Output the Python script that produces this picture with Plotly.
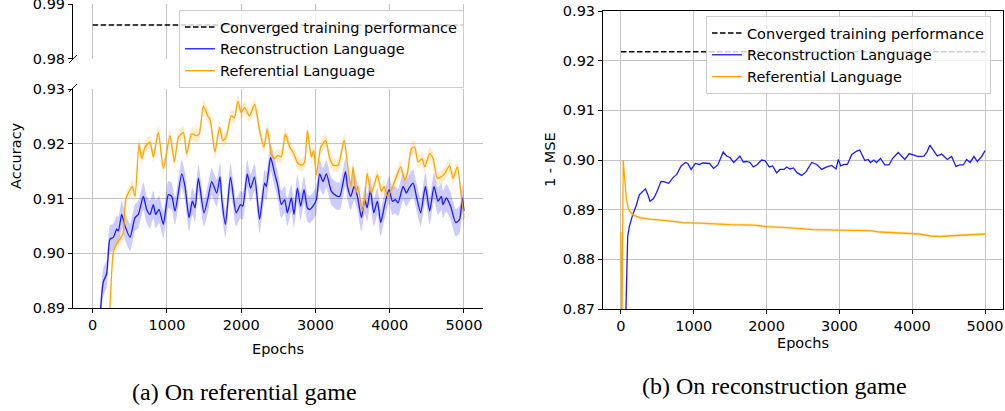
import numpy as np
import plotly.graph_objects as go

# ---------------- data ----------------
X_TICKS = [0, 1000, 2000, 3000, 4000, 5000]
X_TICK_LABELS = ["0", "1000", "2000", "3000", "4000", "5000"]
Y_TOP_TICKS = [0.98, 0.99]
Y_BOT_TICKS = [0.89, 0.90, 0.91, 0.92, 0.93]
Y_RIGHT_TICKS = [0.87, 0.88, 0.89, 0.90, 0.91, 0.92, 0.93]

LABEL_CONV = "Converged training performance"
LABEL_REC = "Reconstruction Language"
LABEL_REF = "Referential Language"

# (a) referential game
conv_a_epochs = [0, 5000]
conv_a_value = [0.9862, 0.9862]

rec_a_epochs = [60, 108, 144, 189, 233, 278, 323, 346, 391, 435, 503, 570, 615, 682, 727, 772,
                817, 848, 893, 952, 1019, 1064, 1109, 1199, 1243, 1297, 1342, 1378, 1423, 1499,
                1558, 1603, 1670, 1715, 1739, 1788, 1856, 1932, 1991, 2022, 2081, 2126, 2180,
                2248, 2315, 2338, 2396, 2450, 2495, 2540, 2585, 2621, 2675, 2711, 2756, 2801,
                2846, 2891, 2922, 2967, 3012, 3057, 3102, 3147, 3215, 3282, 3327, 3404, 3431,
                3476, 3520, 3565, 3619, 3664, 3695, 3740, 3785, 3834, 3879, 3933, 3991, 4036,
                4076, 4112, 4180, 4224, 4260, 4314, 4359, 4417, 4480, 4538, 4596, 4650, 4695,
                4717, 4762, 4820, 4888, 4941, 4977, 5000]
rec_a_acc = [0.875, 0.890, 0.8948, 0.8963, 0.9026, 0.9029, 0.9044, 0.9041, 0.9071, 0.9050,
             0.9029, 0.9065, 0.9071, 0.9104, 0.9080, 0.9071, 0.9089, 0.9071, 0.9080, 0.9053,
             0.9107, 0.9104, 0.9077, 0.9145, 0.9122, 0.9065, 0.9095, 0.9083, 0.9137, 0.9074,
             0.9104, 0.9131, 0.9110, 0.9140, 0.9098, 0.9053, 0.9139, 0.9074, 0.9089, 0.9086,
             0.9145, 0.9119, 0.9139, 0.9062, 0.9128, 0.9122, 0.9175, 0.9146, 0.9122, 0.9089,
             0.9098, 0.9074, 0.9101, 0.9071, 0.9119, 0.9086, 0.9116, 0.9083, 0.9080, 0.9086,
             0.9098, 0.9145, 0.9131, 0.9145, 0.9113, 0.9105, 0.9104, 0.9149, 0.9122, 0.9104,
             0.9122, 0.9104, 0.9065, 0.9098, 0.9083, 0.9115, 0.9074, 0.9095, 0.9056, 0.9089,
             0.9116, 0.9095, 0.9098, 0.9092, 0.9122, 0.9110, 0.9119, 0.9128, 0.9104, 0.9074,
             0.9122, 0.9077, 0.9122, 0.9095, 0.9104, 0.9089, 0.9101, 0.9086, 0.9056, 0.9062,
             0.9101, 0.9077]
rec_a_spread = 0.0025

ref_a_epochs = [180, 233, 278, 323, 368, 413, 444, 503, 534, 570, 624, 660, 705, 772, 817, 884,
                952, 1041, 1100, 1154, 1221, 1266, 1333, 1401, 1436, 1490, 1549, 1580, 1647,
                1707, 1753, 1797, 1865, 1910, 1955, 2000, 2045, 2112, 2180, 2248, 2306, 2351,
                2405, 2450, 2495, 2540, 2594, 2652, 2697, 2765, 2819, 2855, 2891, 2945, 2976,
                3012, 3071, 3138, 3192, 3237, 3305, 3386, 3440, 3476, 3507, 3543, 3574, 3628,
                3664, 3695, 3749, 3785, 3834, 3888, 3924, 3969, 4022, 4090, 4148, 4202, 4238,
                4291, 4336, 4381, 4435, 4471, 4538, 4583, 4641, 4695, 4740, 4807, 4852, 4910,
                4964, 5000]
ref_a_acc = [0.875, 0.890, 0.9002, 0.9017, 0.9026, 0.9038, 0.9098, 0.9116, 0.9122, 0.9104,
             0.9200, 0.9173, 0.9194, 0.9203, 0.9176, 0.9221, 0.9155, 0.9215, 0.9167, 0.9212,
             0.9221, 0.9182, 0.9218, 0.9215, 0.9218, 0.9269, 0.9251, 0.9245, 0.9185, 0.9230,
             0.9206, 0.9212, 0.9251, 0.9248, 0.9278, 0.9257, 0.9266, 0.9251, 0.9272, 0.9224,
             0.9194, 0.9227, 0.9182, 0.9173, 0.9179, 0.9176, 0.9218, 0.9194, 0.9185, 0.9164,
             0.9161, 0.9167, 0.9224, 0.9176, 0.9188, 0.9143, 0.9194, 0.9206, 0.9173, 0.9161,
             0.9161, 0.9206, 0.9152, 0.9122, 0.9158, 0.9110, 0.9122, 0.9077, 0.9098, 0.9146,
             0.9110, 0.9122, 0.9143, 0.9113, 0.9122, 0.9104, 0.9116, 0.9140, 0.9158, 0.9134,
             0.9146, 0.9191, 0.9194, 0.9167, 0.9173, 0.9158, 0.9182, 0.9173, 0.9137, 0.9140,
             0.9146, 0.9160, 0.9137, 0.9158, 0.9104, 0.9065]
ref_a_spread = 0.0012

# (b) reconstruction game
conv_b_epochs = [0, 5000]
conv_b_value = [0.9218, 0.9218]

rec_b_epochs = [0, 60, 92, 115, 161, 206, 252, 298, 335, 367, 399, 445, 491, 550, 596, 656,
                711, 766, 826, 885, 917, 963, 1023, 1078, 1124, 1216, 1271, 1330, 1404, 1450,
                1496, 1550, 1587, 1633, 1679, 1725, 1771, 1817, 1872, 1931, 1977, 2037, 2083,
                2138, 2183, 2239, 2275, 2321, 2367, 2422, 2482, 2541, 2619, 2688, 2757, 2826,
                2894, 2954, 2986, 3018, 3064, 3110, 3170, 3238, 3280, 3349, 3395, 3427, 3473,
                3509, 3564, 3624, 3683, 3729, 3807, 3853, 3899, 3959, 4014, 4083, 4161, 4206,
                4243, 4289, 4344, 4404, 4482, 4541, 4601, 4656, 4702, 4748, 4794, 4849, 4894,
                4954, 5000]
rec_b_score = [0.800, 0.865, 0.8846, 0.8866, 0.8890, 0.8907, 0.8930, 0.8937, 0.8942, 0.8931,
               0.8917, 0.8922, 0.8935, 0.8957, 0.8956, 0.8953, 0.8964, 0.8971, 0.8988, 0.8995,
               0.8993, 0.8981, 0.8993, 0.8991, 0.8994, 0.8993, 0.8983, 0.8990, 0.9016, 0.9008,
               0.9005, 0.8995, 0.9001, 0.9008, 0.8996, 0.8997, 0.8995, 0.8986, 0.8991, 0.9000,
               0.8999, 0.8986, 0.8988, 0.8974, 0.8981, 0.8981, 0.8986, 0.8982, 0.8984, 0.8974,
               0.8969, 0.8976, 0.8995, 0.8991, 0.8981, 0.8986, 0.8989, 0.8982, 0.9001, 0.8988,
               0.8991, 0.8991, 0.9011, 0.9018, 0.9020, 0.8999, 0.9001, 0.8995, 0.9000, 0.8995,
               0.9003, 0.8990, 0.8990, 0.9003, 0.9015, 0.9008, 0.9001, 0.9013, 0.9010, 0.9007,
               0.9008, 0.9017, 0.9030, 0.9019, 0.9008, 0.9012, 0.9001, 0.9007, 0.8987, 0.8990,
               0.8990, 0.9001, 0.8995, 0.9007, 0.8997, 0.9007, 0.9019]

ref_b_epochs = [0, 12, 30, 50, 75, 105, 161, 252, 390, 619, 849, 1078, 1358, 1491, 1817, 2000,
                2275, 2640, 3000, 3142, 3420, 3555, 3830, 4000, 4100, 4250, 4380, 4600, 4800, 5000]
ref_b_score = [0.8855, 0.862, 0.900, 0.8954, 0.8920, 0.8900, 0.8890, 0.8884, 0.8881, 0.8878,
               0.8874, 0.8873, 0.8870, 0.8870, 0.8869, 0.8866, 0.8864, 0.8860, 0.8859, 0.8859,
               0.8858, 0.8855, 0.8853, 0.8852, 0.8851, 0.8847, 0.8846, 0.8848, 0.8849, 0.8851]
ref_b_spread = 0.0003

# ---------------- style ----------------
W, H = 1005, 411
FONT = "DejaVu Sans"
FS = 14.5
BLUE = "#1a1aff"
ORANGE = "#ffa500"
BLUE_FILL = "rgba(0,0,255,0.2)"
ORANGE_FILL = "rgba(255,165,0,0.2)"
GRID = "#c4c4c4"


def px_x(p):
    return p / W


def px_y(p):
    return 1 - p / H


def band(x, y, spread):
    x = np.asarray(x, float)
    y = np.asarray(y, float)
    return (np.concatenate([x, x[::-1]]),
            np.concatenate([y + spread, (y - spread)[::-1]]))


fig = go.Figure()

# ---- (a) top (broken) part
fig.add_trace(go.Scatter(x=conv_a_epochs, y=conv_a_value, mode="lines",
                         line=dict(color="black", width=1.5, dash="5.5px,2.5px"),
                         name=LABEL_CONV, legend="legend", legendgroup="a1",
                         xaxis="x", yaxis="y", hoverinfo="skip"))

# ---- (a) bottom part
bx, by = band(rec_a_epochs, rec_a_acc, rec_a_spread)
fig.add_trace(go.Scatter(x=bx, y=by, fill="toself", fillcolor=BLUE_FILL,
                         line=dict(width=0, shape="spline", smoothing=0.6), mode="lines",
                         showlegend=False, xaxis="x2", yaxis="y2", hoverinfo="skip"))
bx, by = band(ref_a_epochs, ref_a_acc, ref_a_spread)
fig.add_trace(go.Scatter(x=bx, y=by, fill="toself", fillcolor=ORANGE_FILL,
                         line=dict(width=0, shape="spline", smoothing=0.6), mode="lines",
                         showlegend=False, xaxis="x2", yaxis="y2", hoverinfo="skip"))
fig.add_trace(go.Scatter(x=rec_a_epochs, y=rec_a_acc, mode="lines",
                         line=dict(color=BLUE, width=1.3, shape="spline", smoothing=0.6),
                         name=LABEL_REC, legend="legend", legendgroup="a2",
                         xaxis="x2", yaxis="y2"))
fig.add_trace(go.Scatter(x=ref_a_epochs, y=ref_a_acc, mode="lines",
                         line=dict(color=ORANGE, width=1.3, shape="spline", smoothing=0.6),
                         name=LABEL_REF, legend="legend", legendgroup="a3",
                         xaxis="x2", yaxis="y2"))

# ---- (b)
fig.add_trace(go.Scatter(x=conv_b_epochs, y=conv_b_value, mode="lines",
                         line=dict(color="black", width=1.5, dash="5.5px,2.5px"),
                         name=LABEL_CONV, legend="legend2", legendgroup="b1",
                         xaxis="x3", yaxis="y3", hoverinfo="skip"))
fig.add_trace(go.Scatter(x=rec_b_epochs, y=rec_b_score, mode="lines",
                         line=dict(color=BLUE, width=1.3),
                         name=LABEL_REC, legend="legend2", legendgroup="b2",
                         xaxis="x3", yaxis="y3"))
bx, by = band(ref_b_epochs, ref_b_score, ref_b_spread)
fig.add_trace(go.Scatter(x=bx, y=by, fill="toself", fillcolor=ORANGE_FILL,
                         line=dict(width=0), mode="lines",
                         showlegend=False, xaxis="x3", yaxis="y3", hoverinfo="skip"))
fig.add_trace(go.Scatter(x=ref_b_epochs, y=ref_b_score, mode="lines",
                         line=dict(color=ORANGE, width=1.3),
                         name=LABEL_REF, legend="legend2", legendgroup="b3",
                         xaxis="x3", yaxis="y3"))

tickfont = dict(family=FONT, size=FS, color="black")
common_x = dict(tickvals=X_TICKS, ticktext=X_TICK_LABELS, showgrid=True, gridcolor=GRID,
                gridwidth=1, zeroline=False, tickfont=tickfont, ticklen=4,
                tickcolor="black", tickwidth=1, automargin=False)
common_y = dict(showgrid=True, gridcolor=GRID, gridwidth=1, zeroline=False,
                tickfont=tickfont, ticks="outside", ticklen=4, tickcolor="black",
                tickwidth=1, showline=True, linecolor="black", linewidth=1,
                automargin=False, ticklabeloverflow="allow")

left_dom = [px_x(73), px_x(483)]
top_x = {k: v for k, v in common_x.items() if k != "tickfont"}
fig.update_layout(
    width=W, height=H, margin=dict(l=0, r=0, t=0, b=0, autoexpand=False),
    paper_bgcolor="white", plot_bgcolor="white",
    font=dict(family=FONT, size=FS, color="black"),
    xaxis=dict(domain=left_dom, anchor="y", range=[-265, 5256], showticklabels=False,
               ticks="", showline=False, **top_x),
    yaxis=dict(domain=[px_y(59), px_y(4)], anchor="x", range=[0.97999, 0.99001],
               tickvals=Y_TOP_TICKS, ticktext=["0.98", "0.99"], **common_y),
    xaxis2=dict(domain=left_dom, anchor="y2", range=[-265, 5256], ticks="outside",
                showline=True, linecolor="black", linewidth=1, **common_x),
    yaxis2=dict(domain=[px_y(308), px_y(89)], anchor="x2", range=[0.89, 0.93001],
                tickvals=Y_BOT_TICKS, ticktext=[f"{v:.2f}" for v in Y_BOT_TICKS], **common_y),
    xaxis3=dict(domain=[px_x(603), px_x(1003)], anchor="y3", range=[-247, 5247],
                ticks="outside", showline=True, linecolor="black", linewidth=1,
                mirror=True, **common_x),
    yaxis3=dict(domain=[px_y(309), px_y(11)], anchor="x3", range=[0.87, 0.93],
                tickvals=Y_RIGHT_TICKS, ticktext=[f"{v:.2f}" for v in Y_RIGHT_TICKS],
                mirror=True, **common_y),
    legend=dict(x=px_x(179), y=px_y(10), xanchor="left", yanchor="top",
                bgcolor="rgba(255,255,255,0.8)", bordercolor="#cccccc", borderwidth=1,
                font=dict(family=FONT, size=FS, color="black"), traceorder="grouped",
                tracegroupgap=0),
    legend2=dict(x=px_x(706), y=px_y(16), xanchor="left", yanchor="top",
                 bgcolor="rgba(255,255,255,0.8)", bordercolor="#cccccc", borderwidth=1,
                 font=dict(family=FONT, size=FS, color="black"), traceorder="grouped",
                 tracegroupgap=0),
)

# broken-axis marks
for cy in (59, 88):
    fig.add_shape(type="line", xref="paper", yref="paper",
                  x0=px_x(69), y0=px_y(cy + 4), x1=px_x(77), y1=px_y(cy - 4),
                  line=dict(color="black", width=1))

ann = [
    dict(text="Accuracy", x=px_x(16), y=px_y(156), textangle=-90,
         font=dict(family=FONT, size=FS)),
    dict(text="1 - MSE", x=px_x(550), y=px_y(160), textangle=-90,
         font=dict(family=FONT, size=FS)),
    dict(text="Epochs", x=px_x(278), y=px_y(349), font=dict(family=FONT, size=FS)),
    dict(text="Epochs", x=px_x(803), y=px_y(343), font=dict(family=FONT, size=FS)),
    dict(text="(a) On referential game", x=px_x(244), y=px_y(392),
         font=dict(family="Liberation Serif", size=24)),
    dict(text="(b) On reconstruction game", x=px_x(774), y=px_y(386),
         font=dict(family="Liberation Serif", size=24)),
]
for a in ann:
    fig.add_annotation(xref="paper", yref="paper", showarrow=False,
                       xanchor="center", yanchor="middle", **a)

fig.write_html(
    "out.html",
    config={"displayModeBar": False},
    post_script="document.body.style.margin='0';document.body.style.overflow='hidden';",
)
